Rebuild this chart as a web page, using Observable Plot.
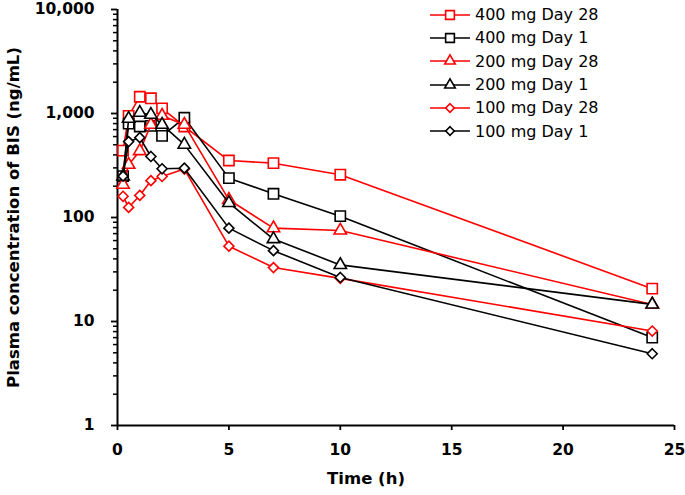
<!DOCTYPE html>
<html>
<head>
<meta charset="utf-8">
<script src="https://cdn.jsdelivr.net/npm/d3@7"></script>
<script src="https://cdn.jsdelivr.net/npm/@observablehq/plot@0.6"></script>
<style>
  html, body { margin: 0; padding: 0; background: #fff; }
  #wrap { position: relative; width: 685px; height: 495px; font-family: "DejaVu Sans", Verdana, sans-serif; }
  #legend { position: absolute; left: 430px; top: 3px; }
  .row { display: flex; align-items: center; height: 23.3px; font-size: 16px; color: #000; }
  .row svg { margin-right: 5px; }
</style>
</head>
<body>
<div id="wrap"><div id="legend"></div></div>
<script>
// ---- data ----
const times = [0.25, 0.5, 1, 1.5, 2, 3, 5, 7, 10, 24];
const seriesNames = ["400 mg Day 28", "400 mg Day 1", "200 mg Day 28", "200 mg Day 1", "100 mg Day 28", "100 mg Day 1"];
const conc400Day28 = [440, 950, 1450, 1400, 1120, 750, 353, 333, 258, 20.7];
const conc400Day1  = [250, 800, 750, 760, 610, 910, 239, 169, 103, 7.0];
const conc200Day28 = [207, 322, 435, 781, 953, 781, 148, 79, 75, 14.6];
const conc200Day1  = [248, 891, 1018, 974, 781, 502, 138, 62, 35, 14.6];
const conc100Day28 = [160, 125, 163, 226, 248, 292, 53, 33, 26, 8.1];
const conc100Day1  = [250, 537, 586, 386, 294, 298, 79, 48, 26.5, 4.9];
const xTicks = [0, 5, 10, 15, 20, 25];
const yMajorTicks = [1, 10, 100, 1000, 10000];
const yMinorTicks = [2,3,4,5,6,7,8,9,20,30,40,50,60,70,80,90,200,300,400,500,600,700,800,900,2000,3000,4000,5000,6000,7000,8000,9000];
const xTitle = "Time (h)";
const yTitle = "Plasma concentration of BIS (ng/mL)";
const seriesColors = ["#ff0000", "#000000", "#ff0000", "#000000", "#ff0000", "#000000"];
const seriesSymbols = ["square", "square", "triangle", "triangle", "diamond2", "diamond2"];
const seriesRadius = [5.8, 5.8, 4.6, 4.6, 4.5, 4.5];

const valueArrays = [conc400Day28, conc400Day1, conc200Day28, conc200Day1, conc100Day28, conc100Day1];
const data = seriesNames.map((name, i) => times.map((t, j) => ({series: name, time: t, conc: valueArrays[i][j]})));

const seriesMarks = data.flatMap((rows, i) => [
  Plot.line(rows, {x: "time", y: "conc", stroke: seriesColors[i], strokeWidth: 1.6}),
  Plot.dot(rows, {x: "time", y: "conc", symbol: () => seriesSymbols[i], r: seriesRadius[i], stroke: seriesColors[i], fill: "white", strokeWidth: 1.6})
]);

const chart = Plot.plot({
  width: 685,
  height: 495,
  marginLeft: 117,
  marginRight: 11,
  marginTop: 9,
  marginBottom: 70,
  style: {fontFamily: "'DejaVu Sans', Verdana, sans-serif", fontSize: "15.5px", fontWeight: "bold", color: "#000", background: "white", overflow: "visible"},
  x: {domain: [0, 25]},
  y: {type: "log", domain: [1, 10000]},
  symbol: {type: "identity"},
  marks: [
    Plot.axisY({ticks: yMinorTicks, tickSize: 4, tickFormat: () => "", label: null, strokeWidth: 1.5}),
    Plot.axisY({ticks: yMajorTicks, tickSize: 6, tickPadding: 17, tickFormat: d3.format(","), strokeWidth: 1.8, label: null, fontSize: 15.5}),
    Plot.axisX({ticks: xTicks, tickSize: 5, tickPadding: 13, strokeWidth: 1.8, label: null, fontSize: 15.5}),
    Plot.text([yTitle], {text: d => d, frameAnchor: "left", textAnchor: "middle", rotate: -90, dx: -104, fontSize: 16.5, fontWeight: "bold", fill: "#000"}),
    Plot.text([xTitle], {text: d => d, frameAnchor: "bottom", dx: -30, dy: 58, fontSize: 16.5, fontWeight: "bold", fill: "#000"}),
    Plot.ruleX([0], {stroke: "#000", strokeWidth: 2}),
    Plot.ruleY([1], {stroke: "#000", strokeWidth: 2}),
    ...seriesMarks
  ]
});
document.getElementById("wrap").prepend(chart);

// ---- legend ----
const symbolTypes = {square: d3.symbolSquare, triangle: d3.symbolTriangle, diamond2: d3.symbolDiamond2};
const legend = d3.select("#legend");
seriesNames.forEach((name, i) => {
  const row = legend.append("div").attr("class", "row");
  const svg = row.append("svg").attr("width", 40).attr("height", 20);
  svg.append("line").attr("x1", 0).attr("x2", 40).attr("y1", 10).attr("y2", 10)
    .attr("stroke", seriesColors[i]).attr("stroke-width", 1.6);
  svg.append("path").attr("transform", "translate(20,10)")
    .attr("d", d3.symbol(symbolTypes[seriesSymbols[i]], Math.PI * Math.pow(seriesRadius[i] * 0.85, 2))())
    .attr("fill", "white").attr("stroke", seriesColors[i]).attr("stroke-width", 1.6);
  row.append("span").text(name);
});
</script>
</body>
</html>
